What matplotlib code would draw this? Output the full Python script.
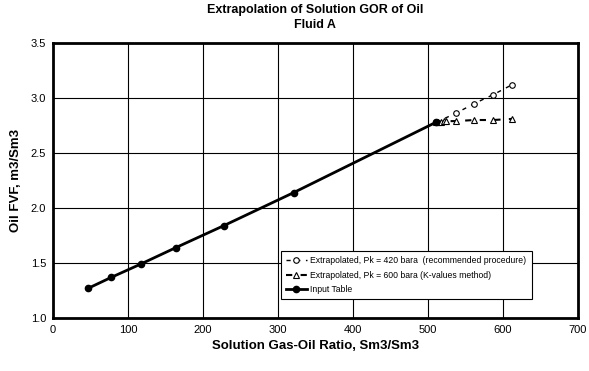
import matplotlib
matplotlib.use('Agg')
import matplotlib.pyplot as plt

plt.rcParams['font.family'] = ['Liberation Sans', 'DejaVu Sans']

# Input table (solution GOR, oil FVF)
gor_input = [47, 78, 117, 164, 228, 321, 511]
fvf_input = [1.27, 1.37, 1.49, 1.64, 1.84, 2.14, 2.78]

# Extrapolated, Pk = 420 bara
gor_420 = [511, 537, 562, 587, 612]
fvf_420 = [2.78, 2.86, 2.95, 3.03, 3.12]

# Extrapolated, Pk = 600 bara
gor_600 = [511, 514, 517, 521, 524, 537, 562, 587, 612]
fvf_600 = [2.78, 2.78, 2.785, 2.79, 2.79, 2.79, 2.80, 2.80, 2.81]

fig = plt.figure(figsize=(5.89, 3.71), dpi=100)
ax = fig.add_axes([0.090, 0.143, 0.891, 0.741])

ax.plot(gor_420, fvf_420, color='black', linestyle=(0, (3, 4)), linewidth=1,
        marker='o', markersize=4, markerfacecolor='white', markeredgewidth=0.8,
        label='Extrapolated, Pk = 420 bara  (recommended procedure)')
ax.plot(gor_600, fvf_600, color='black', linestyle=(0, (3, 4)), linewidth=1.5,
        marker='^', markersize=4, markerfacecolor='white', markeredgewidth=0.8,
        label='Extrapolated, Pk = 600 bara (K-values method)')
ax.plot(gor_input, fvf_input, color='black', linewidth=2,
        marker='o', markersize=4.5, label='Input Table')

ax.set_xlim(0, 700)
ax.set_ylim(1.0, 3.5)
ax.set_xticks(range(0, 701, 100))
ax.set_yticks([1.0, 1.5, 2.0, 2.5, 3.0, 3.5])
ax.yaxis.set_major_formatter(plt.FormatStrFormatter('%.1f'))
ax.tick_params(length=0, labelsize=8, pad=5)
ax.grid(color='black', linewidth=0.8)
ax.set_axisbelow(True)
for s in ax.spines.values():
    s.set_linewidth(2)

ax.set_title('Extrapolation of Solution GOR of Oil\nFluid A', fontsize=9,
             fontweight='bold', pad=11, linespacing=1.35)
ax.set_xlabel('Solution Gas-Oil Ratio, Sm3/Sm3', fontsize=9.5,
              fontweight='bold', labelpad=4)
ax.set_ylabel('Oil FVF, m3/Sm3', fontsize=9.5, fontweight='bold', labelpad=6)

leg = ax.legend(loc='lower right', bbox_to_anchor=(0.92, 0.052), fontsize=6.2,
                frameon=True, fancybox=False, edgecolor='black', framealpha=1,
                handlelength=2.4, handletextpad=0.4, borderpad=0.6,
                labelspacing=0.65)
leg.get_frame().set_linewidth(0.8)

fig.savefig('out.png', dpi=100)
